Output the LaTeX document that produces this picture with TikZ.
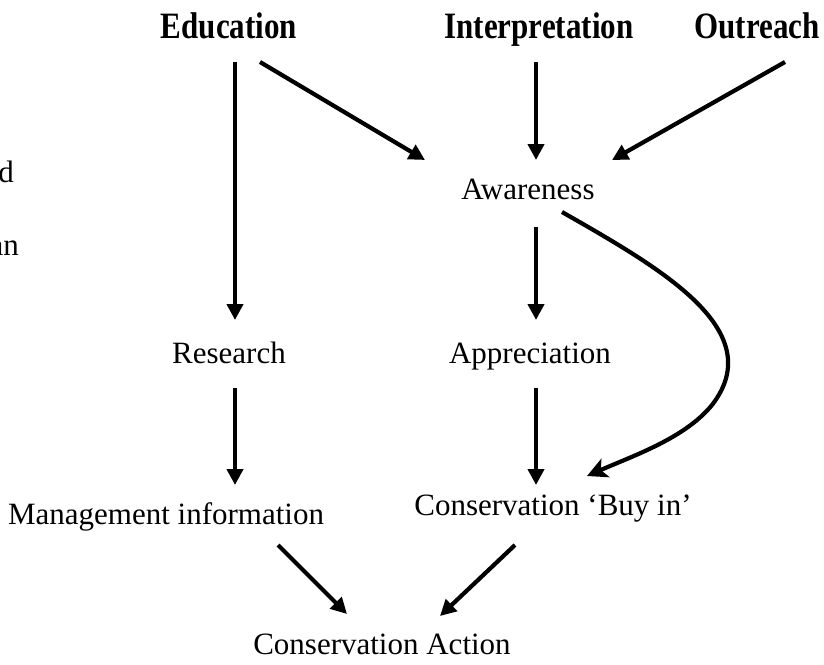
\documentclass[tikz,border=0pt]{standalone}
\usepackage{fontspec}
\setmainfont{Liberation Serif}
\usetikzlibrary{arrows.meta}
\begin{document}
\begin{tikzpicture}[x=1pt,y=-1pt,
  lbl/.style={inner sep=0pt,anchor=base,font=\fontsize{31}{37}\selectfont},
  hd/.style={inner sep=0pt,anchor=base,font=\fontsize{31}{37}\selectfont\bfseries},
  arr/.style={line width=4.2pt,-{Triangle[length=16pt,width=16pt]}},
  carr/.style={line width=4.2pt,-{Stealth[length=20pt,width=20pt,inset=5pt]}}]
\useasboundingbox (0,0) rectangle (824,664);
% headings
\node[hd] (edu) at (229,38) {\scalebox{1}[1.2]{Education}};
\node[hd] (int) at (539,38) {\scalebox{1}[1.2]{Interpretation}};
\node[hd] (out) at (757,38) {\scalebox{1}[1.2]{Outreach}};
% labels
\node[lbl] (awa) at (528,199) {Awareness};
\node[lbl] (res) at (229,363) {Research};
\node[lbl] (app) at (530,363) {Appreciation};
\node[lbl] (man) at (166,524) {Management information};
\node[lbl] (buy) at (553,515) {Conservation `Buy in'};
\node[lbl] (act) at (382,654) {Conservation Action};
% clipped text fragments at left
\node[lbl,anchor=base east] (fd) at (14,182) {d};
\node[lbl,anchor=base east] (fan) at (19,255) {an};
% arrow end points
\coordinate (e1) at (235,62);
\coordinate (e2) at (260,62);
\coordinate (i1) at (536,62);
\coordinate (o1) at (785,62);
\coordinate (a1) at (425,160);
\coordinate (a2) at (536,160);
\coordinate (a3) at (612,160);
\coordinate (a4) at (536,227);
\coordinate (a5) at (562,212);
\coordinate (r1) at (235,320);
\coordinate (r2) at (235,388);
\coordinate (p1) at (536,320);
\coordinate (p2) at (536,388);
\coordinate (m1) at (235,485);
\coordinate (m2) at (278,545);
\coordinate (b1) at (536,485);
\coordinate (b2) at (587,476);
\coordinate (b3) at (515,545);
\coordinate (c1) at (347,614);
\coordinate (c2) at (440,616);
\draw[arr] (e1) -- (r1);
\draw[arr] (e2) -- (a1);
\draw[arr] (i1) -- (a2);
\draw[arr] (o1) -- (a3);
\draw[arr] (a4) -- (p1);
\draw[carr] (a5) .. controls (660,268) and (770,330) .. (712,405) .. controls (685,438) and (635,455) .. (b2);
\draw[arr] (r2) -- (m1);
\draw[arr] (p2) -- (b1);
\draw[arr] (m2) -- (c1);
\draw[arr] (b3) -- (c2);
\end{tikzpicture}
\end{document}
